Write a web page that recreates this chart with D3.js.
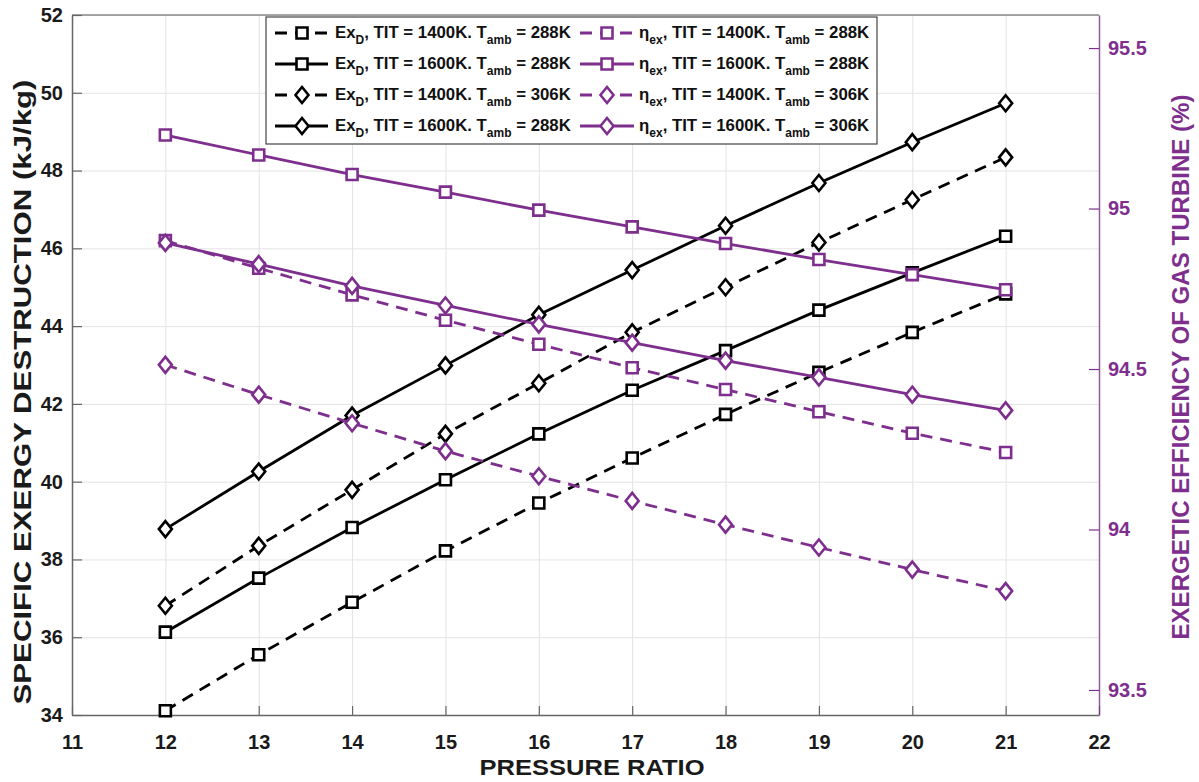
<!DOCTYPE html>
<html>
<head>
<meta charset="utf-8">
<script src="https://cdn.jsdelivr.net/npm/d3@7"></script>
<style>
  body { margin: 0; background: #fff; }
  svg { display: block; font-family: "Liberation Sans", Arial, sans-serif; font-weight: bold; }
</style>
</head>
<body>
<svg id="chart" width="1199" height="782"></svg>
<script>
// ---------- data ----------
const pressureRatio = [12, 13, 14, 15, 16, 17, 18, 19, 20, 21];
const exD_1400_288 = [34.11, 35.55, 36.90, 38.22, 39.45, 40.61, 41.73, 42.81, 43.84, 44.83];
const exD_1600_288 = [36.13, 37.52, 38.82, 40.05, 41.23, 42.35, 43.37, 44.41, 45.37, 46.31];
const exD_1400_306 = [36.81, 38.35, 39.79, 41.23, 42.53, 43.84, 45.00, 46.15, 47.25, 48.34];
const exD_1600_306 = [38.78, 40.26, 41.70, 42.99, 44.29, 45.44, 46.58, 47.68, 48.73, 49.73];
const eta_1400_288 = [94.900, 94.814, 94.731, 94.652, 94.577, 94.504, 94.436, 94.367, 94.300, 94.240];
const eta_1600_288 = [95.229, 95.167, 95.106, 95.051, 94.995, 94.943, 94.891, 94.841, 94.794, 94.747];
const eta_1400_306 = [94.513, 94.420, 94.331, 94.244, 94.166, 94.089, 94.015, 93.944, 93.875, 93.808];
const eta_1600_306 = [94.893, 94.827, 94.759, 94.698, 94.639, 94.582, 94.526, 94.474, 94.420, 94.371];

const xTicks = [11, 12, 13, 14, 15, 16, 17, 18, 19, 20, 21, 22];
const leftTicks = [34, 36, 38, 40, 42, 44, 46, 48, 50, 52];
const rightTicks = [93.5, 94, 94.5, 95, 95.5];
const rightTickLabels = ["93.5", "94", "94.5", "95", "95.5"];

const xLabel = "PRESSURE RATIO";
const yLeftLabel = "SPECIFIC EXERGY DESTRUCTION (kJ/kg)";
const yRightLabel = "EXERGETIC EFFICIENCY OF GAS TURBINE (%)";

// series definitions (legend order)
const leftSeries = [
  { values: exD_1400_288, dashed: true,  marker: "square",  label: [["Ex"],["D",1],[", TIT = 1400K. T"],["amb",1],[" = 288K"]] },
  { values: exD_1600_288, dashed: false, marker: "square",  label: [["Ex"],["D",1],[", TIT = 1600K. T"],["amb",1],[" = 288K"]] },
  { values: exD_1400_306, dashed: true,  marker: "diamond", label: [["Ex"],["D",1],[", TIT = 1400K. T"],["amb",1],[" = 306K"]] },
  { values: exD_1600_306, dashed: false, marker: "diamond", label: [["Ex"],["D",1],[", TIT = 1600K. T"],["amb",1],[" = 288K"]] }
];
const rightSeries = [
  { values: eta_1400_288, dashed: true,  marker: "square",  label: [["η"],["ex",1],[", TIT = 1400K. T"],["amb",1],[" = 288K"]] },
  { values: eta_1600_288, dashed: false, marker: "square",  label: [["η"],["ex",1],[", TIT = 1600K. T"],["amb",1],[" = 288K"]] },
  { values: eta_1400_306, dashed: true,  marker: "diamond", label: [["η"],["ex",1],[", TIT = 1400K. T"],["amb",1],[" = 306K"]] },
  { values: eta_1600_306, dashed: false, marker: "diamond", label: [["η"],["ex",1],[", TIT = 1600K. T"],["amb",1],[" = 306K"]] }
];

// ---------- layout ----------
const PURPLE = "#7E2F8E";
const BLACK = "#000000";
const L = 72, R = 1099, T = 15, B = 715;

const svg = d3.select("#chart");
const x = d3.scaleLinear().domain([11, 22]).range([L, R]);
const yL = d3.scaleLinear().domain([34, 52]).range([B, T]);
const yR = d3.scaleLinear().domain([93.422, 95.603]).range([B, T]);

// grid
const grid = svg.append("g");
grid.append("g").attr("transform", `translate(0,${B})`)
  .call(d3.axisBottom(x).tickValues(xTicks).tickSize(-(B - T)).tickFormat(""))
  .call(g => g.select(".domain").remove())
  .call(g => g.selectAll("line").attr("stroke", "#e3e3e3").attr("stroke-width", 1));
grid.append("g").attr("transform", `translate(${L},0)`)
  .call(d3.axisLeft(yL).tickValues(leftTicks).tickSize(-(R - L)).tickFormat(""))
  .call(g => g.select(".domain").remove())
  .call(g => g.selectAll("line").attr("stroke", "#e3e3e3").attr("stroke-width", 1));

// top border
svg.append("line").attr("x1", L).attr("x2", R).attr("y1", T).attr("y2", T)
  .attr("stroke", "#8a8a8a").attr("stroke-width", 1.5);

// axes
const axB = svg.append("g").attr("transform", `translate(0,${B})`)
  .call(d3.axisBottom(x).tickValues(xTicks).tickSizeInner(-9).tickSizeOuter(0).tickPadding(20).tickFormat(d3.format("d")));
const axL = svg.append("g").attr("transform", `translate(${L},0)`)
  .call(d3.axisLeft(yL).tickValues(leftTicks).tickSizeInner(-10).tickSizeOuter(0).tickPadding(9).tickFormat(d3.format("d")));
const axR = svg.append("g").attr("transform", `translate(${R},0)`)
  .call(d3.axisRight(yR).tickValues(rightTicks).tickSizeInner(-10).tickSizeOuter(0).tickPadding(9)
    .tickFormat((d, i) => rightTickLabels[i]));

[axB, axL].forEach(a => {
  a.select(".domain").attr("stroke", "#666").attr("stroke-width", 1.5);
  a.selectAll(".tick line").attr("stroke", "#666").attr("stroke-width", 1.2);
  a.selectAll("text").attr("fill", "#1a1a1a").attr("font-size", 20).attr("font-weight", "bold")
    .attr("font-family", "Liberation Sans, Arial, sans-serif");
});
axR.select(".domain").attr("stroke", PURPLE).attr("stroke-width", 1.5).attr("stroke-opacity", 0.8);
axR.selectAll(".tick line").attr("stroke", PURPLE).attr("stroke-width", 1.2);
axR.selectAll("text").attr("fill", PURPLE).attr("font-size", 20).attr("font-weight", "bold")
  .attr("font-family", "Liberation Sans, Arial, sans-serif");

// axis labels
svg.append("text").attr("x", 592).attr("y", 775).attr("text-anchor", "middle")
  .attr("font-size", 21.5).attr("fill", "#1a1a1a")
  .attr("textLength", 225).attr("lengthAdjust", "spacingAndGlyphs").text(xLabel);
svg.append("text").attr("transform", "translate(31,392) rotate(-90)").attr("text-anchor", "middle")
  .attr("font-size", 23).attr("fill", "#1a1a1a")
  .attr("textLength", 625).attr("lengthAdjust", "spacingAndGlyphs").text(yLeftLabel);
svg.append("text").attr("transform", "translate(1189,367) rotate(-90)").attr("text-anchor", "middle")
  .attr("font-size", 23).attr("fill", PURPLE)
  .attr("textLength", 545).attr("lengthAdjust", "spacingAndGlyphs").text(yRightLabel);

// markers
const DASH = "12,8";
function markerPath(type) {
  if (type === "square") return "M-5.5,-5.5H5.5V5.5H-5.5Z";
  return "M0,-8L6.5,0L0,8L-6.5,0Z";
}

function drawSeries(s, yScale, color) {
  const pts = pressureRatio.map((p, i) => [p, s.values[i]]);
  const line = d3.line().x(d => x(d[0])).y(d => yScale(d[1]));
  svg.append("path").datum(pts).attr("d", line).attr("fill", "none")
    .attr("stroke", color).attr("stroke-width", 2.8)
    .attr("stroke-dasharray", s.dashed ? DASH : null);
  svg.append("g").selectAll("path").data(pts).join("path")
    .attr("transform", d => `translate(${x(d[0])},${yScale(d[1])})`)
    .attr("d", markerPath(s.marker))
    .attr("fill", "#fff").attr("stroke", color).attr("stroke-width", 2.6);
}
leftSeries.forEach(s => drawSeries(s, yL, BLACK));
rightSeries.forEach(s => drawSeries(s, yR, PURPLE));

// legend
const lg = svg.append("g");
lg.append("rect").attr("x", 266).attr("y", 17).attr("width", 611).attr("height", 127)
  .attr("fill", "#fff").attr("stroke", "#444").attr("stroke-width", 1.2);
const rowY = i => 33 + i * 31;
function legendCol(series, color, x0, x1, xm, xt) {
  series.forEach((s, i) => {
    const yy = rowY(i);
    lg.append("line").attr("x1", x0).attr("x2", x1).attr("y1", yy).attr("y2", yy)
      .attr("stroke", color).attr("stroke-width", 2.8)
      .attr("stroke-dasharray", s.dashed ? DASH : null);
    lg.append("path").attr("transform", `translate(${xm},${yy})`).attr("d", markerPath(s.marker))
      .attr("fill", "#fff").attr("stroke", color).attr("stroke-width", 2.6);
    const t = lg.append("text").attr("x", xt).attr("y", yy + 5).attr("font-size", 16.8).attr("fill", "#111");
    let shifted = false;
    s.label.forEach(seg => {
      const sub = !!seg[1];
      const ts = t.append("tspan").text(seg[0]);
      if (sub) { ts.attr("font-size", 12).attr("dy", shifted ? 0 : 6); shifted = true; }
      else { ts.attr("dy", shifted ? -6 : 0); shifted = false; }
    });
  });
}
legendCol(leftSeries, BLACK, 275, 328, 302, 335);
legendCol(rightSeries, PURPLE, 580, 634, 607, 639);
</script>
</body>
</html>
